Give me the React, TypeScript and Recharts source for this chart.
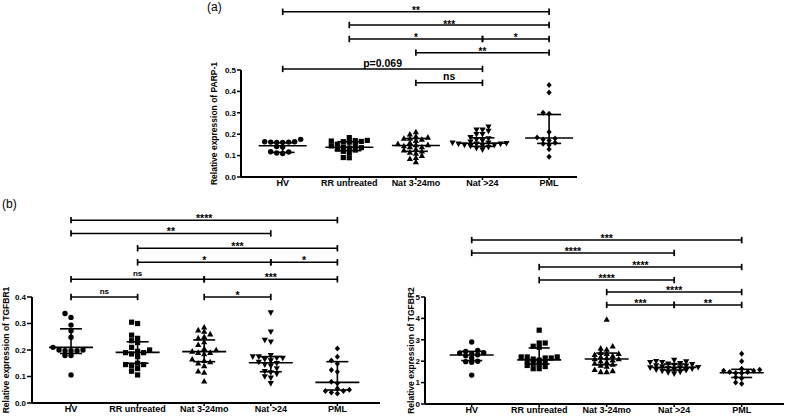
import React from 'react';
import { ScatterChart, Scatter, XAxis, YAxis, ErrorBar, ReferenceLine } from 'recharts';

const FONT = '"Liberation Sans", Arial, Helvetica, sans-serif';

const categories = ['HV', 'RR untreated', 'Nat 3-24mo', 'Nat >24', 'PML'];

// (a) PARP-1
const parpHV = [0.176, 0.165, 0.163, 0.162, 0.163, 0.162, 0.165, 0.14, 0.142, 0.118, 0.11, 0.112, 0.117];
const parpRR = [0.184, 0.171, 0.168, 0.165, 0.163, 0.166, 0.17, 0.153, 0.15, 0.145, 0.14, 0.137, 0.135, 0.13, 0.126, 0.12, 0.114, 0.09, 0.091];
const parpNat324 = [0.21, 0.2, 0.19, 0.185, 0.18, 0.18, 0.175, 0.17, 0.16, 0.155, 0.15, 0.15, 0.145, 0.14, 0.14, 0.13, 0.125, 0.12, 0.115, 0.11, 0.1, 0.09, 0.085, 0.07];
const parpNat24 = [0.235, 0.22, 0.215, 0.22, 0.2, 0.2, 0.185, 0.18, 0.175, 0.17, 0.165, 0.16, 0.16, 0.158, 0.155, 0.155, 0.155, 0.15, 0.15, 0.148, 0.145, 0.14, 0.135, 0.128];
const parpPML = [0.43, 0.395, 0.3, 0.295, 0.21, 0.185, 0.18, 0.175, 0.17, 0.16, 0.155, 0.15, 0.13, 0.095];
const parpMedian = [0.146, 0.139, 0.147, 0.158, 0.182];
const parpQ1 = [0.115, 0.123, 0.12, 0.143, 0.157];
const parpQ3 = [0.16, 0.165, 0.18, 0.183, 0.292];
const parpYTicks = [0, 0.1, 0.2, 0.3, 0.4, 0.5];

// (b) TGFBR1
const t1HV = [0.338, 0.323, 0.294, 0.273, 0.248, 0.21, 0.2, 0.197, 0.197, 0.197, 0.2, 0.179, 0.179, 0.106];
const t1RR = [0.305, 0.3, 0.256, 0.244, 0.235, 0.228, 0.21, 0.2, 0.195, 0.19, 0.19, 0.185, 0.175, 0.15, 0.145, 0.145, 0.14, 0.13, 0.12, 0.106];
const t1Nat324 = [0.286, 0.275, 0.27, 0.26, 0.25, 0.245, 0.23, 0.22, 0.205, 0.2, 0.195, 0.19, 0.19, 0.185, 0.165, 0.16, 0.155, 0.15, 0.14, 0.12, 0.115, 0.082];
const t1Nat24 = [0.341, 0.269, 0.238, 0.231, 0.18, 0.175, 0.175, 0.17, 0.17, 0.165, 0.16, 0.155, 0.15, 0.145, 0.14, 0.13, 0.12, 0.115, 0.11, 0.1, 0.095, 0.074];
const t1PML = [0.206, 0.175, 0.16, 0.148, 0.125, 0.118, 0.08, 0.075, 0.055, 0.05, 0.045, 0.045, 0.04, 0.036];
const t1Median = [0.21, 0.191, 0.194, 0.152, 0.078];
const t1Q1 = [0.187, 0.15, 0.156, 0.118, 0.049];
const t1Q3 = [0.28, 0.231, 0.238, 0.175, 0.156];
const t1YTicks = [0, 0.1, 0.2, 0.3, 0.4];

// (b) TGFBR2
const t2HV = [2.9, 2.5, 2.45, 2.4, 2.38, 2.35, 2.3, 2.25, 2.15, 2.0, 1.98, 1.95, 1.35];
const t2RR = [3.45, 2.85, 2.85, 2.7, 2.65, 2.2, 2.2, 2.2, 2.15, 2.15, 2.1, 2.05, 2.0, 1.95, 1.9, 1.85, 1.8, 1.75, 1.65, 1.65];
const t2Nat324 = [3.95, 2.7, 2.6, 2.55, 2.4, 2.35, 2.35, 2.3, 2.25, 2.2, 2.15, 2.1, 2.1, 2.05, 2.0, 1.95, 1.9, 1.85, 1.8, 1.75, 1.6, 1.55, 1.5, 1.5];
const t2Nat24 = [2.05, 2.0, 1.98, 1.95, 1.95, 1.9, 1.88, 1.85, 1.82, 1.8, 1.78, 1.75, 1.72, 1.7, 1.7, 1.68, 1.65, 1.62, 1.6, 1.58, 1.55, 1.5, 1.48, 1.42];
const t2PML = [2.35, 2.0, 1.65, 1.6, 1.55, 1.55, 1.5, 1.5, 1.45, 1.45, 1.25, 1.2, 1.0, 0.95];
const t2Median = [2.29, 2.06, 2.1, 1.71, 1.46];
const t2Q1 = [2.03, 1.87, 1.83, 1.59, 1.24];
const t2Q3 = [2.46, 2.62, 2.38, 1.87, 1.62];
const t2YTicks = [0, 1, 2, 3, 4, 5];

type Bracket = { from: number; to: number; label: string; level: number };

const parpBrackets: Bracket[] = [
  { from: 2, to: 3, label: 'ns', level: 0.44 },
  { from: 0, to: 3, label: 'p=0.069', level: 0.505 },
  { from: 2, to: 4, label: '**', level: 0.581 },
  { from: 1, to: 3, label: '*', level: 0.645 },
  { from: 3, to: 4, label: '*', level: 0.645 },
  { from: 1, to: 4, label: '***', level: 0.71 },
  { from: 0, to: 4, label: '**', level: 0.772 },
];

const t1Brackets: Bracket[] = [
  { from: 0, to: 1, label: 'ns', level: 0.4 },
  { from: 2, to: 3, label: '*', level: 0.4 },
  { from: 0, to: 2, label: 'ns', level: 0.467 },
  { from: 2, to: 4, label: '***', level: 0.467 },
  { from: 1, to: 3, label: '*', level: 0.531 },
  { from: 3, to: 4, label: '*', level: 0.531 },
  { from: 1, to: 4, label: '***', level: 0.584 },
  { from: 0, to: 3, label: '**', level: 0.64 },
  { from: 0, to: 4, label: '****', level: 0.69 },
];

const t2Brackets: Bracket[] = [
  { from: 2, to: 3, label: '***', level: 4.63 },
  { from: 3, to: 4, label: '**', level: 4.63 },
  { from: 2, to: 4, label: '****', level: 5.23 },
  { from: 1, to: 3, label: '****', level: 5.79 },
  { from: 1, to: 4, label: '****', level: 6.4 },
  { from: 0, to: 3, label: '****', level: 7.06 },
  { from: 0, to: 4, label: '***', level: 7.66 },
];

// row-style scatter layout (GraphPad-like): dots that are vertically close share a row
function swarm(vals: number[], pxX: number, pxY: number, gap: number, rowH: number): number[] {
  const idx = vals.map((_, i) => i).sort((a, b) => vals[a] - vals[b]);
  const placed: { x: number; y: number }[] = [];
  const off = new Array(vals.length).fill(0);
  for (const i of idx) {
    const y = vals[i] * pxY;
    let chosen = 0;
    for (let k = 0; k < 600; k++) {
      const cand = (k % 2 === 1 ? -1 : 1) * Math.ceil(k / 2) * 0.5;
      if (placed.every((p) => Math.abs(p.y - y) >= rowH || Math.abs(p.x - cand) >= gap)) {
        chosen = cand;
        break;
      }
    }
    placed.push({ x: chosen, y });
    off[i] = chosen / pxX;
  }
  return off;
}

const markerKinds = ['circle', 'square', 'up', 'down', 'diamond'];

function marker(kind: string) {
  return (p: any) => {
    const cx = Number(p.cx);
    const cy = Number(p.cy);
    if (!isFinite(cx) || !isFinite(cy)) return <g />;
    switch (kind) {
      case 'circle':
        return <circle cx={cx} cy={cy} r={2.7} fill="#000" />;
      case 'square':
        return <rect x={cx - 2.6} y={cy - 2.6} width={5.2} height={5.2} fill="#000" />;
      case 'up':
        return <path d={`M${cx},${cy - 3.3}L${cx + 3.1},${cy + 2.3}L${cx - 3.1},${cy + 2.3}Z`} fill="#000" />;
      case 'down':
        return <path d={`M${cx},${cy + 3.3}L${cx + 3.1},${cy - 2.3}L${cx - 3.1},${cy - 2.3}Z`} fill="#000" />;
      default:
        return <path d={`M${cx},${cy - 3}L${cx + 2.6},${cy}L${cx},${cy + 3}L${cx - 2.6},${cy}Z`} fill="#000" />;
    }
  };
}

type LabelCfg = { star: number; word: number; starDy: number; wordDy: number };

function bracketShape(b: Bracket, cfg: LabelCfg) {
  return (p: any) => {
    const x1 = Number(p.x1);
    const x2 = Number(p.x2);
    const y = Number(p.y1);
    const isWord = /[a-z]/i.test(b.label);
    return (
      <g>
        <line x1={x1} y1={y} x2={x2} y2={y} stroke="#000" strokeWidth={1.5} />
        <line x1={x1} y1={y - 3.2} x2={x1} y2={y + 3.2} stroke="#000" strokeWidth={1.7} />
        <line x1={x2} y1={y - 3.2} x2={x2} y2={y + 3.2} stroke="#000" strokeWidth={1.7} />
        <text
          x={(x1 + x2) / 2}
          y={y + (isWord ? cfg.wordDy : cfg.starDy)}
          textAnchor="middle"
          fontSize={isWord ? cfg.word : cfg.star}
          fontWeight={700}
          fontFamily={FONT}
          fill="#000"
        >
          {b.label}
        </text>
      </g>
    );
  };
}

type PanelProps = {
  left: number;
  top: number;
  width: number;
  height: number;
  margin: { top: number; right: number; bottom: number; left: number };
  yAxisWidth: number;
  xAxisHeight: number;
  xDomain: [number, number];
  yDomain: [number, number];
  yTicks: number[];
  yFmt: (v: number) => string;
  yTickSize: number;
  yTickMargin: number;
  groups: number[][];
  med: number[];
  q1: number[];
  q3: number[];
  brackets: Bracket[];
  labelCfg: LabelCfg;
  title: string;
  titleX: number;
  panelLabel?: { text: string; x: number; y: number };
  medHalf: number;
  capHalf: number;
};

function Panel(props: PanelProps) {
  const {
    left, top, width, height, margin, yAxisWidth, xAxisHeight, xDomain, yDomain, yTicks, yFmt,
    yTickSize, yTickMargin, groups, med, q1, q3, brackets, labelCfg, title, titleX, panelLabel, medHalf, capHalf,
  } = props;
  const plotW = width - margin.left - margin.right - yAxisWidth;
  const plotH = height - margin.top - margin.bottom - xAxisHeight;
  const pxX = plotW / (xDomain[1] - xDomain[0]);
  const pxY = plotH / (yDomain[1] - yDomain[0]);
  const titleY = margin.top + plotH / 2;

  const groupData = groups.map((g, gi) => {
    const off = swarm(g, pxX, pxY, 5.8, 4.2);
    return g.map((v, j) => ({ x: gi + off[j], y: v }));
  });
  const statData = med.map((m, i) => ({ x: i, y: m, err: [m - q1[i], q3[i] - m] }));

  const medShape = (p: any) => {
    const cx = Number(p.cx);
    const cy = Number(p.cy);
    return <line x1={cx - medHalf} y1={cy} x2={cx + medHalf} y2={cy} stroke="#000" strokeWidth={1.6} />;
  };

  return (
    <div style={{ position: 'absolute', left, top, width, height }}>
      <ScatterChart width={width} height={height} margin={margin}>
        <XAxis
          type="number"
          dataKey="x"
          domain={xDomain}
          ticks={[0, 1, 2, 3, 4]}
          interval={0}
          allowDataOverflow
          tickFormatter={(v: number) => categories[Math.round(v)]}
          height={xAxisHeight}
          tickSize={3}
          tickMargin={0}
          axisLine={{ stroke: '#000', strokeWidth: 2 }}
          tickLine={{ stroke: '#000', strokeWidth: 1.5 }}
          tick={{ fill: '#000', fontSize: 9, fontWeight: 700, fontFamily: FONT }}
        />
        <YAxis
          type="number"
          dataKey="y"
          domain={yDomain}
          ticks={yTicks}
          interval={0}
          allowDataOverflow
          tickFormatter={yFmt}
          width={yAxisWidth}
          tickSize={yTickSize}
          tickMargin={yTickMargin}
          axisLine={{ stroke: '#000', strokeWidth: 2 }}
          tickLine={{ stroke: '#000', strokeWidth: 1.5 }}
          tick={{ fill: '#000', fontSize: 8, fontWeight: 700, fontFamily: FONT }}
        />
        {groupData.map((d, gi) => (
          <Scatter
            key={'g' + gi}
            data={d}
            dataKey="y"
            isAnimationActive={false}
            shape={marker(markerKinds[gi])}
          />
        ))}
        <Scatter data={statData} dataKey="y" isAnimationActive={false} shape={medShape}>
          <ErrorBar dataKey="err" direction="y" width={capHalf} stroke="#000" strokeWidth={1.6} />
        </Scatter>
        {brackets.map((b, i) => (
          <ReferenceLine
            key={'b' + i}
            segment={[
              { x: b.from, y: b.level },
              { x: b.to, y: b.level },
            ]}
            ifOverflow="visible"
            stroke="#000"
            shape={bracketShape(b, labelCfg)}
          />
        ))}
        <text
          x={titleX}
          y={titleY}
          transform={`rotate(-90, ${titleX}, ${titleY})`}
          textAnchor="middle"
          fontSize={8.5}
          fontWeight={700}
          fontFamily={FONT}
          fill="#000"
        >
          {title}
        </text>
        {panelLabel ? (
          <text x={panelLabel.x} y={panelLabel.y} fontSize={12} fontFamily={FONT} fill="#000">
            {panelLabel.text}
          </text>
        ) : null}
      </ScatterChart>
    </div>
  );
}

export default function App() {
  return (
    <div style={{ position: 'absolute', left: 0, top: 0, width: 788, height: 416, background: '#fff', fontFamily: FONT }}>
      <Panel
        left={160}
        top={0}
        width={440}
        height={196}
        margin={{ top: 70, right: 23, bottom: 0, left: 51 }}
        yAxisWidth={30}
        xAxisHeight={19}
        xDomain={[-0.626, 4.419]}
        yDomain={[0, 0.5]}
        yTicks={parpYTicks}
        yFmt={(v) => v.toFixed(1)}
        yTickSize={4}
        yTickMargin={1}
        groups={[parpHV, parpRR, parpNat324, parpNat24, parpPML]}
        med={parpMedian}
        q1={parpQ1}
        q3={parpQ3}
        brackets={parpBrackets}
        labelCfg={{ star: 10, word: 10.5, starDy: 2.5, wordDy: -2.4 }}
        title="Relative expression of PARP-1"
        titleX={57}
        panelLabel={{ text: '(a)', x: 47, y: 11 }}
        medHalf={24}
        capHalf={12}
      />
      <Panel
        left={0}
        top={196}
        width={390}
        height={220}
        margin={{ top: 101, right: 10, bottom: 0, left: 8 }}
        yAxisWidth={24}
        xAxisHeight={13}
        xDomain={[-0.586, 4.64]}
        yDomain={[0, 0.4]}
        yTicks={t1YTicks}
        yFmt={(v) => v.toFixed(1)}
        yTickSize={5}
        yTickMargin={1}
        groups={[t1HV, t1RR, t1Nat324, t1Nat24, t1PML]}
        med={t1Median}
        q1={t1Q1}
        q3={t1Q3}
        brackets={t1Brackets}
        labelCfg={{ star: 10.5, word: 8, starDy: 2, wordDy: -3.5 }}
        title="Relative expression of TGFBR1"
        titleX={8.5}
        panelLabel={{ text: '(b)', x: 2, y: 11.5 }}
        medHalf={22}
        capHalf={11}
      />
      <Panel
        left={390}
        top={196}
        width={398}
        height={220}
        margin={{ top: 101, right: 4, bottom: 0, left: 15 }}
        yAxisWidth={20}
        xAxisHeight={12}
        xDomain={[-0.692, 4.627]}
        yDomain={[0, 5]}
        yTicks={t2YTicks}
        yFmt={(v) => String(v)}
        yTickSize={4}
        yTickMargin={1}
        groups={[t2HV, t2RR, t2Nat324, t2Nat24, t2PML]}
        med={t2Median}
        q1={t2Q1}
        q3={t2Q3}
        brackets={t2Brackets}
        labelCfg={{ star: 10.5, word: 8, starDy: 2, wordDy: -3.5 }}
        title="Relative expression of TGFBR2"
        titleX={23.5}
        medHalf={22}
        capHalf={10.5}
      />
    </div>
  );
}
